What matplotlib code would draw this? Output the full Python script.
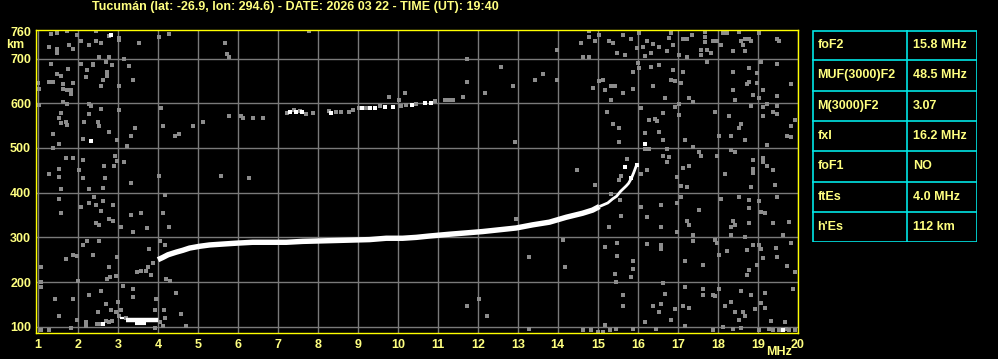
import matplotlib

matplotlib.use("Agg")
import matplotlib.pyplot as plt
from matplotlib.patches import Rectangle

# ---- data ----
title = "Tucumán (lat: -26.9, lon: 294.6) - DATE: 2026 03 22 - TIME (UT): 19:40"
freq_ticks = list(range(1, 21))
height_ticks = [100, 200, 300, 400, 500, 600, 700, 760]

# F2 ordinary trace, thick part (MHz, km)
f2_freq = [4.0, 4.12, 4.25, 4.46, 4.62, 4.79, 5.04, 5.29, 5.62, 5.96, 6.37, 6.79, 7.21, 7.62,
           8.04, 8.46, 8.87, 9.29, 9.71, 10.12, 10.46, 10.79, 11.29, 11.71, 12.12, 12.54,
           12.96, 13.37, 13.79, 14.21, 14.62, 14.87, 15.04]
f2_height = [250, 255, 261, 267, 271, 276, 280, 283, 285, 287, 289, 289, 289, 291,
             292, 293, 294, 295, 298, 298, 300, 303, 307, 310, 313, 317,
             321, 328, 334, 345, 354, 361, 369]
# F2 trace near the critical frequency, thin part
f2_top_freq = [15.04, 15.25, 15.37, 15.47, 15.57, 15.71, 15.77, 15.84, 15.9, 15.97]
f2_top_height = [369, 377, 386, 392, 403, 415, 421, 432, 445, 462]

# sporadic E trace
es_freq = [3.21, 4.0]
es_height = [114, 114]
es_low_freq = [3.42, 3.71]
es_low_height = [108, 108]
es_bit_freq = [3.06, 3.14]
es_bit_height = [119, 119]

# second hop echoes
hop_white = [(7.3, 580), (7.45, 580), (7.6, 580), (8.33, 579), (9.1, 589), (9.3, 589),
             (9.42, 590), (9.67, 592), (9.87, 592), (10.35, 596), (10.67, 601), (10.83, 601)]
hop_gray = [(7.22, 578), (7.55, 583), (7.7, 577), (7.87, 578), (8.29, 582), (8.58, 581),
            (8.79, 581), (8.87, 585), (9.04, 589), (9.2, 589), (9.55, 593), (10.08, 594),
            (10.2, 596), (10.46, 599), (10.92, 606), (11.18, 607), (11.27, 607), (11.37, 607),
            (11.62, 615), (6.07, 572), (6.13, 568), (6.37, 568), (6.62, 568), (5.77, 571),
            (7.4, 584), (8.45, 580), (9.77, 615), (10.02, 607), (10.17, 622)]

# isolated white echoes
white_dots = [(2.83, 753), (2.33, 516), (2.62, 107), (15.67, 457), (15.97, 462), (15.82, 433),
              (16.17, 509), (19.62, 93)]

# scattered gray noise
noise_upper_left = [
    (1.33, 756), (1.48, 758), (1.73, 762), (1.97, 753), (2.44, 762), (2.77, 750), (3.02, 741),
    (3.02, 745), (2.07, 739), (2.27, 731), (2.44, 739), (2.57, 735), (1.27, 727), (1.48, 721),
    (1.48, 713), (1.77, 730), (1.87, 722), (3.52, 735), (4.02, 749), (4.27, 756), (5.67, 735),
    (5.73, 710), (5.77, 704), (7.79, 762), (2.52, 703), (2.77, 704), (3.14, 700), (1.33, 689),
    (2.08, 689), (2.37, 689), (2.37, 685), (2.69, 693), (2.86, 686), (1.75, 677), (2.22, 674),
    (2.72, 670), (3.27, 683), (1.47, 665), (1.58, 661), (2.21, 658), (2.72, 661), (2.62, 652),
    (3.37, 652), (1.27, 647), (1.37, 647), (1.62, 643), (1.87, 646), (1.0, 645), (1.02, 633),
    (1.62, 633), (1.73, 630), (1.83, 630), (1.83, 621), (2.58, 639), (3.02, 639), (1.62, 603),
    (1.73, 598), (1.02, 596), (2.27, 598), (2.33, 594), (1.58, 579), (2.58, 587), (3.02, 585),
    (4.08, 589), (1.52, 567), (1.58, 555), (1.69, 558), (1.73, 551), (2.14, 559), (2.5, 559),
    (2.52, 549), (2.27, 576), (4.12, 549), (3.42, 545), (3.33, 527), (2.77, 536), (1.37, 531),
    (2.12, 519), (1.52, 509), (2.97, 518), (3.22, 504), (1.37, 500), (5.12, 558), (4.87, 549),
    (4.42, 527), (4.52, 531), (1.69, 478), (1.87, 478), (2.12, 473), (2.93, 482), (2.97, 471),
    (3.14, 469), (2.64, 460), (2.89, 460), (2.02, 451), (1.52, 454), (1.27, 442), (1.52, 436),
    (2.12, 433), (2.68, 433), (4.02, 438), (5.58, 438), (6.27, 433),
]
noise_upper_right = [
    (11.72, 698), (11.72, 648), (12.18, 624), (12.58, 682), (12.87, 639), (12.92, 513),
    (13.44, 653), (13.62, 665), (13.97, 719), (13.97, 652), (14.48, 451), (14.58, 735),
    (14.62, 704), (14.77, 762), (14.77, 749), (14.77, 704), (14.93, 740), (15.02, 753),
    (15.02, 650), (14.87, 635), (15.12, 652), (15.18, 630), (15.27, 740), (15.37, 735),
    (15.33, 639), (15.43, 639), (15.33, 607), (15.22, 581), (15.37, 553), (15.52, 545),
    (15.52, 513), (15.47, 712), (15.62, 753), (15.67, 708), (15.62, 622), (15.72, 475),
    (15.57, 437), (15.52, 428), (15.82, 743), (15.87, 671), (15.87, 633), (16.02, 758),
    (15.97, 723), (16.0, 691), (16.02, 680), (16.07, 590), (16.12, 727), (16.17, 706),
    (16.22, 739), (16.17, 534), (16.17, 497), (16.27, 497), (16.27, 563), (16.22, 451),
    (16.07, 442), (16.32, 713), (16.37, 732), (16.32, 682), (16.37, 639), (16.42, 564),
    (16.47, 561), (16.52, 686), (16.52, 727), (16.52, 535), (16.62, 579), (16.62, 518),
    (16.62, 482), (16.72, 497), (16.72, 469), (16.77, 480), (16.67, 611), (16.72, 718),
    (16.77, 745), (16.83, 758), (16.87, 730), (16.87, 674), (16.83, 652), (16.92, 650),
    (16.92, 591), (17.02, 708), (17.02, 598), (17.02, 574), (16.97, 436), (17.07, 645),
    (17.12, 670), (17.12, 743), (17.22, 743), (17.22, 704), (17.27, 612), (17.27, 460),
    (17.12, 456), (17.17, 518), (17.37, 603), (17.37, 503), (17.36, 753), (17.58, 719),
    (17.58, 708), (17.52, 492), (17.58, 482), (17.68, 760), (17.68, 749), (17.68, 738),
    (17.72, 719), (17.73, 693), (17.83, 713), (17.87, 739), (17.92, 581), (17.97, 739),
    (17.97, 482), (18.02, 527), (18.07, 730), (18.12, 758), (18.22, 758), (18.17, 442),
    (18.27, 571), (18.32, 527), (18.37, 718), (18.37, 670), (18.37, 630), (18.42, 607),
    (18.42, 492), (18.32, 495), (18.52, 760), (18.52, 544), (18.58, 553), (18.58, 740),
    (18.62, 730), (18.67, 743), (18.67, 718), (18.67, 518), (18.77, 743), (18.77, 678),
    (18.77, 648), (18.72, 643), (18.82, 740), (18.82, 594), (18.87, 618), (18.87, 473),
    (18.87, 454), (18.87, 443), (18.97, 667), (18.97, 645), (19.02, 758), (19.02, 611),
    (19.07, 693), (19.12, 630), (19.12, 591), (19.12, 571), (19.12, 478), (19.12, 468),
    (19.22, 598), (19.22, 507), (19.22, 460), (19.37, 581), (19.37, 451), (19.47, 743),
    (19.47, 688), (19.47, 616), (19.47, 594), (19.47, 577), (19.52, 740), (19.72, 527),
    (19.83, 643), (19.83, 549), (19.83, 525), (19.93, 563),
]
noise_lower_left = [
    (1.58, 409), (2.27, 409), (2.62, 410), (3.33, 421), (1.52, 385), (1.58, 355), (2.08, 368),
    (2.27, 377), (2.39, 390), (2.44, 373), (2.62, 382), (2.87, 373), (2.58, 360), (3.33, 351),
    (3.58, 355), (4.12, 355), (4.18, 395), (2.77, 342), (2.87, 337), (2.44, 332), (2.52, 328),
    (3.08, 324), (3.72, 322), (4.27, 324), (3.37, 312), (2.22, 292), (2.12, 283), (2.52, 292),
    (4.04, 292), (4.18, 283), (3.77, 275), (1.87, 261), (1.97, 258), (1.69, 251), (2.37, 261),
    (2.97, 256), (1.08, 233), (2.77, 233), (3.47, 222), (3.58, 224), (3.69, 224), (3.83, 216),
    (3.75, 233), (3.87, 243), (2.81, 211), (2.72, 206), (2.94, 213), (2.0, 203), (1.08, 200),
    (1.08, 189), (3.12, 192), (3.37, 185), (4.19, 207), (4.29, 203), (4.44, 176), (2.58, 180),
    (2.27, 171), (3.37, 166), (3.96, 163), (1.42, 161), (1.87, 161), (3.0, 155), (2.69, 151),
    (2.83, 137), (3.08, 138), (2.5, 133), (2.94, 133), (4.14, 138), (4.58, 129), (1.52, 124),
    (1.97, 116), (3.02, 124), (3.19, 119), (3.92, 138), (4.17, 119), (2.21, 110), (2.19, 101),
    (2.54, 107), (2.77, 110), (2.86, 112), (1.83, 98), (1.08, 92), (1.27, 93), (4.12, 101),
    (3.92, 97), (4.69, 101), (3.97, 116), (4.06, 110), (2.48, 107), (2.7, 112),
]
noise_lower_right = [
    (14.94, 418), (15.33, 398), (15.56, 383), (15.57, 348), (15.27, 323), (12.96, 342),
    (14.12, 293), (13.27, 256), (14.17, 233), (15.18, 278), (15.47, 288), (15.47, 259),
    (15.87, 247), (15.87, 230), (15.44, 219), (15.82, 211), (16.07, 368), (16.22, 345),
    (16.22, 286), (16.57, 373), (16.57, 323), (16.57, 283), (16.57, 274), (16.97, 377),
    (16.97, 313), (17.07, 416), (17.22, 413), (17.07, 390), (17.22, 336), (17.27, 327),
    (17.37, 306), (17.37, 292), (17.52, 362), (17.17, 247), (17.62, 239), (17.92, 295),
    (17.97, 288), (18.02, 261), (18.07, 386), (18.22, 269), (18.32, 323), (18.37, 336),
    (18.32, 306), (18.42, 328), (18.52, 391), (18.67, 301), (18.72, 271), (18.77, 383),
    (18.77, 366), (18.77, 332), (18.82, 413), (18.87, 284), (18.77, 228), (18.72, 216),
    (19.02, 381), (19.07, 357), (19.17, 355), (19.02, 284), (19.07, 275), (19.12, 254),
    (18.97, 239), (19.37, 333), (19.42, 418), (19.47, 390), (19.62, 306), (19.72, 237),
    (19.77, 334), (19.83, 287), (19.46, 276), (19.47, 256), (19.93, 222), (15.46, 200),
    (15.62, 172), (15.62, 146), (16.62, 198), (16.67, 174), (16.57, 151), (16.37, 146),
    (16.52, 133), (16.92, 139), (17.17, 189), (17.12, 146), (17.27, 142), (17.62, 185),
    (17.62, 170), (17.87, 172), (17.92, 169), (18.02, 185), (18.17, 146), (18.32, 155),
    (18.42, 133), (18.52, 116), (18.62, 134), (18.57, 181), (18.67, 124), (18.82, 172),
    (18.92, 139), (19.07, 154), (19.17, 142), (19.17, 176), (19.87, 185), (19.32, 112),
    (19.67, 110), (16.82, 116), (16.17, 110), (15.89, 95), (15.46, 95), (15.17, 104),
    (14.62, 93), (14.83, 92), (15.0, 88), (15.12, 88), (15.31, 92), (16.46, 95), (17.17, 101),
    (17.87, 92), (18.12, 99), (18.37, 94), (18.59, 97), (19.04, 93), (19.29, 95), (19.37, 92),
    (19.54, 93), (19.71, 95), (19.79, 92), (19.92, 93), (12.04, 163), (11.72, 146),
    (12.22, 124), (13.27, 94),
]

table_names = ["foF2", "MUF(3000)F2", "M(3000)F2", "fxI", "foF1", "ftEs", "h'Es"]
table_values = ["15.8 MHz", "48.5 MHz", "3.07", "16.2 MHz", "NO", "4.0 MHz", "112 km"]

# ---- style ----
W, H = 998, 359
TXT = "#ffff80"
FRAME = "#ffff00"
GRID = "#7a7a7a"
CYAN = "#00e6e6"
font = {"family": "Liberation Sans", "weight": "bold", "size": 9.0}

fig = plt.figure(figsize=(W / 100, H / 100), dpi=100, facecolor="black")

# main ionogram panel, placed in pixel units
ax = fig.add_axes([36 / W, (H - 333) / H, (797.7 - 36) / W, (333 - 30) / H])
ax.set_facecolor("black")
ax.set_xlim(0.95, 20.0)
ax.set_ylim(86, 764)

for f in freq_ticks:
    ax.axvline(f, color=GRID, lw=1.0, zorder=0)
for h in height_ticks[:-1]:
    ax.axhline(h, color=GRID, lw=1.0, zorder=0)

def scatter_pairs(pairs, color, size=5.0):
    xs = [p[0] for p in pairs]
    ys = [p[1] for p in pairs]
    ax.scatter(xs, ys, s=size, marker="s", color=color, linewidths=0, zorder=2)

noise = noise_upper_left + noise_upper_right + noise_lower_left + noise_lower_right
scatter_pairs(noise, "#8c8c8c")
scatter_pairs(hop_gray, "#8c8c8c", 5.0)
scatter_pairs(hop_white, "white", 6.5)
scatter_pairs(white_dots, "white", 5.5)

ax.plot(f2_freq, f2_height, color="white", lw=3.9, solid_capstyle="butt", zorder=3)
ax.plot(f2_top_freq, f2_top_height, color="white", lw=2.0, solid_capstyle="butt", zorder=3)
ax.plot(es_freq, es_height, color="white", lw=3.2, solid_capstyle="butt", zorder=3)
ax.plot(es_low_freq, es_low_height, color="white", lw=3.0, solid_capstyle="butt", zorder=3)
ax.plot(es_bit_freq, es_bit_height, color="white", lw=1.6, solid_capstyle="butt", zorder=3)

ax.set_xticks(freq_ticks)
ax.set_xticklabels([str(f) for f in freq_ticks], color=TXT, fontdict=font)
ax.set_yticks(height_ticks)
ax.set_yticklabels([str(h) for h in height_ticks], color=TXT, fontdict=font)
ax.tick_params(axis="x", length=0, pad=4.5)
ax.tick_params(axis="y", length=0, pad=3.5)
for spine in ax.spines.values():
    spine.set_color(FRAME)
    spine.set_linewidth(1.0)
    spine.set_zorder(5)

fig.text(6 / W, 1 - 45 / H, "km", color=TXT, ha="left", va="center", fontdict=font)
fig.text(779 / W, 1 - 352 / H, "MHz", color=TXT, ha="center", va="center", fontdict=font)
fig.text(295 / W, 1 - 7 / H, title, color=TXT, ha="center", va="center", fontdict=font)

# parameter table on the right
tw, th = 165.4, 212.3
tab = fig.add_axes([812 / W, (H - 242.3) / H, tw / W, th / H])
tab.set_xlim(0, tw)
tab.set_ylim(th, 0)
tab.axis("off")
row_h = th / len(table_names)
tab.add_patch(Rectangle((0.5, 0.5), tw - 1, th - 1, fill=False, edgecolor=CYAN, lw=1.2))
tab.plot([95.3, 95.3], [0, th], color=CYAN, lw=1.2)
for i, (name, val) in enumerate(zip(table_names, table_values)):
    if i > 0:
        tab.plot([0, tw], [i * row_h, i * row_h], color=CYAN, lw=1.2)
    yc = (i + 0.5) * row_h
    tab.text(5.3, yc, name, color=TXT, ha="left", va="center", fontdict=font)
    tab.text(100.7, yc, val, color=TXT, ha="left", va="center", fontdict=font)

fig.savefig("out.png", dpi=100, facecolor="black")
plt.close(fig)
